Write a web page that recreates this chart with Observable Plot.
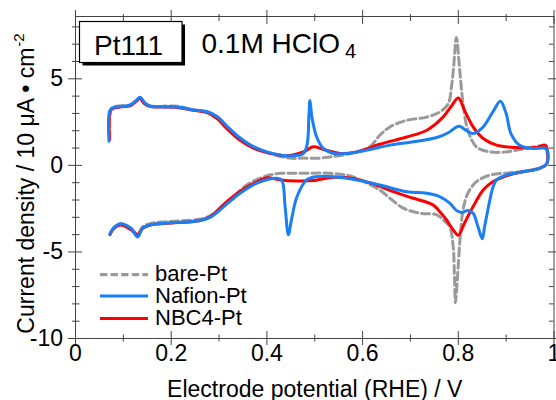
<!DOCTYPE html>
<html><head><meta charset="utf-8">
<script src="https://cdn.jsdelivr.net/npm/d3@7"></script>
<script src="https://cdn.jsdelivr.net/npm/@observablehq/plot@0.6"></script>
<style>body{margin:0;background:#fff}#chart{width:556px;height:400px}</style>
</head><body><div id="chart"></div>
<script>
// ---- data ----
const seriesNames = ["bare-Pt", "Nafion-Pt", "NBC4-Pt"];
const seriesColors = ["#9a9a9a", "#1a7ff5", "#ff0000"];

// bare-Pt: anodic sweep then cathodic sweep
const bareX = [0.072,0.074,0.08,0.095,0.115,0.127,0.135,0.141,0.147,0.157,0.2125,0.247,0.275,0.296,0.317,0.344,0.372,0.40,0.447,0.476,0.51,0.532,0.558,0.58,0.615,0.636,0.657,0.692,0.734,0.761,0.779,0.786,0.79,0.796,0.803,0.81,0.82,0.838,0.866,0.90,0.942,0.98,0.985,
  0.97,0.935,0.90,0.866,0.838,0.82,0.81,0.803,0.798,0.794,0.792,0.789,0.782,0.772,0.755,0.72,0.685,0.657,0.636,0.609,0.574,0.532,0.463,0.428,0.40,0.358,0.317,0.282,0.261,0.192,0.157,0.14,0.13,0.115,0.094,0.08,0.072];
const bareY = [1.5,3.2,3.38,3.45,3.5,3.75,3.92,3.72,3.56,3.43,3.42,3.2,3.1,2.8,2.2,1.55,1.05,0.75,0.42,0.42,0.42,0.49,0.59,0.72,1.07,1.74,2.22,2.6,2.79,3.08,3.56,4.6,5.6,7.39,5.48,3.56,2.03,1.07,0.78,0.78,0.98,1.07,0.1,
  -0.15,-0.35,-0.45,-0.56,-0.94,-1.61,-2.57,-4.48,-6.6,-7.93,-6.4,-4.6,-3.53,-3.24,-2.86,-2.76,-2.47,-1.9,-1.42,-1.03,-0.61,-0.46,-0.46,-0.46,-0.6,-1.13,-2.18,-2.9,-3.1,-3.25,-3.35,-3.55,-4.0,-3.6,-3.4,-3.6,-3.95];

// Nafion-Pt
const nafionX = [0.070,0.072,0.08,0.095,0.115,0.127,0.135,0.141,0.147,0.157,0.18,0.2125,0.247,0.275,0.296,0.317,0.344,0.372,0.40,0.442,0.476,0.484,0.488,0.49,0.494,0.504,0.518,0.539,0.567,0.609,0.657,0.706,0.755,0.78,0.795,0.803,0.815,0.831,0.852,0.872,0.888,0.90,0.91,0.928,0.956,0.984,0.985,
  0.97,0.935,0.90,0.88,0.872,0.866,0.855,0.85,0.841,0.831,0.82,0.806,0.796,0.782,0.761,0.734,0.692,0.636,0.588,0.539,0.504,0.483,0.463,0.452,0.445,0.438,0.431,0.421,0.379,0.344,0.31,0.282,0.261,0.192,0.157,0.14,0.13,0.115,0.094,0.08,0.072];
const nafionY = [1.4,3.18,3.35,3.4,3.5,3.75,3.94,3.75,3.56,3.41,3.38,3.37,3.2,3.1,2.82,2.25,1.58,1.08,0.78,0.55,0.69,1.2,3.0,3.75,2.8,1.64,0.98,0.69,0.69,0.88,1.17,1.36,1.61,1.9,2.2,2.26,2.05,1.84,2.22,3.08,3.7,2.99,1.84,1.17,0.98,0.94,0.1,
  -0.17,-0.37,-0.56,-0.84,-1.3,-1.99,-3.53,-4.24,-3.53,-2.76,-2.61,-2.72,-2.6,-2.18,-1.8,-1.61,-1.52,-1.13,-0.84,-0.65,-0.65,-0.84,-1.8,-3.05,-4.0,-2.38,-0.84,-0.75,-1.03,-1.61,-2.38,-2.99,-3.18,-3.33,-3.43,-3.62,-4.14,-3.62,-3.37,-3.6,-3.95];

// NBC4-Pt
const nbcX = [0.071,0.073,0.08,0.095,0.115,0.127,0.135,0.141,0.147,0.157,0.2125,0.247,0.275,0.296,0.317,0.344,0.372,0.40,0.442,0.476,0.497,0.518,0.553,0.588,0.636,0.692,0.734,0.768,0.785,0.8,0.813,0.831,0.852,0.88,0.921,0.963,0.982,0.985,
  0.97,0.935,0.906,0.872,0.852,0.831,0.813,0.8,0.789,0.775,0.761,0.747,0.706,0.664,0.622,0.58,0.539,0.497,0.463,0.428,0.40,0.379,0.344,0.31,0.282,0.261,0.192,0.157,0.14,0.13,0.115,0.094,0.08,0.072];
const nbcY = [1.5,3.15,3.3,3.38,3.45,3.7,3.88,3.65,3.5,3.4,3.35,3.18,3.05,2.7,2.1,1.45,1.0,0.74,0.55,0.78,1.07,0.92,0.69,0.78,1.22,1.64,2.03,2.79,3.4,3.89,3.18,2.22,1.55,1.17,1.03,1.03,1.17,0.1,
  -0.17,-0.37,-0.56,-0.94,-1.42,-2.38,-3.33,-4.04,-3.72,-3.14,-2.67,-2.28,-1.9,-1.52,-1.07,-0.75,-0.69,-0.88,-0.9,-0.84,-0.72,-0.95,-1.5,-2.25,-2.95,-3.18,-3.35,-3.45,-3.65,-4.0,-3.7,-3.45,-3.65,-4.0];

const xMajor = [0, 0.2, 0.4, 0.6, 0.8, 1];
const xMinor = [0.1, 0.3, 0.5, 0.7, 0.9];
const xTickLabels = ["0", "0.2", "0.4", "0.6", "0.8", "1"];
const yMajor = [-10, -5, 0, 5];
const yMinor = [-9,-8,-7,-6,-4,-3,-2,-1,1,2,3,4,6,7,8];
const yTickLabels = ["-10", "-5", "0", "5"];
const xLabel = "Electrode potential (RHE) / V";
const yLabel = "Current density / 10 \u03bcA \u2022 cm";
const yLabelSup = "-2";
const boxText = "Pt111";
const titleText = "0.1M HClO";
const titleSub = "4";

// ---- build table ----
function rowsOf(name, xs, ys) { return xs.map((x, i) => ({series: name, x, y: ys[i]})); }
const bareRows = rowsOf(seriesNames[0], bareX, bareY);
const nafionRows = rowsOf(seriesNames[1], nafionX, nafionY);
const nbcRows = rowsOf(seriesNames[2], nbcX, nbcY);

const W = 556, H = 400, mt = 16, mb = 62, ml = 75, mr = 2.5;
const pw = W - ml - mr, ph = H - mt - mb;
const font = "'Liberation Sans', Arial, Helvetica, sans-serif";
const axisColor = "#444";

const chart = Plot.plot({
  width: W, height: H,
  marginTop: mt, marginBottom: mb, marginLeft: ml, marginRight: mr,
  style: {fontFamily: font, background: "#fff", color: "#000", overflow: "visible"},
  x: {domain: [0, 1]},
  y: {domain: [-10, 8.6]},
  marks: [
    Plot.line(bareRows, {x: "x", y: "y", stroke: seriesColors[0], strokeWidth: 3, strokeDasharray: "8,4", curve: "catmull-rom"}),
    Plot.line(nbcRows, {x: "x", y: "y", stroke: seriesColors[2], strokeWidth: 3, curve: "catmull-rom"}),
    Plot.line(nafionRows, {x: "x", y: "y", stroke: seriesColors[1], strokeWidth: 3, curve: "catmull-rom"}),
    Plot.frame({stroke: axisColor, strokeWidth: 1}),
    // bottom ticks
    Plot.tickX(xMajor, {x: d => d, stroke: axisColor, insetTop: ph - 7, insetBottom: -7}),
    Plot.tickX(xMinor, {x: d => d, stroke: axisColor, insetTop: ph - 3.5, insetBottom: -3.5}),
    // top ticks
    Plot.tickX(xMajor, {x: d => d, stroke: axisColor, insetTop: -6, insetBottom: ph - 8}),
    Plot.tickX(xMinor, {x: d => d, stroke: axisColor, insetTop: -2, insetBottom: ph - 5}),
    // left ticks
    Plot.tickY(yMajor, {y: d => d, stroke: axisColor, insetLeft: -7, insetRight: pw - 7}),
    Plot.tickY(yMinor, {y: d => d, stroke: axisColor, insetLeft: -3, insetRight: pw - 4.5}),
    // right ticks
    Plot.tickY(yMajor, {y: d => d, stroke: axisColor, insetLeft: pw - 5.5, insetRight: -3}),
    Plot.tickY(yMinor, {y: d => d, stroke: axisColor, insetLeft: pw - 4.5, insetRight: 0}),
    Plot.axisX({ticks: xMajor, tickSize: 0, tickPadding: 6, tickFormat: d => xTickLabels[xMajor.indexOf(d)], fontSize: 23, label: null}),
    Plot.axisY({ticks: yMajor, tickSize: 0, tickPadding: 12.5, tickFormat: d => yTickLabels[yMajor.indexOf(d)], fontSize: 23, label: null}),
    Plot.text([xLabel], {frameAnchor: "bottom", lineAnchor: "bottom", dy: 58, fontSize: 23}),
    Plot.text([yLabel], {frameAnchor: "left", textAnchor: "middle", lineAnchor: "bottom", rotate: -90, dx: -42, dy: 6, fontSize: 23, className: "ylab"}),
    Plot.text([boxText], {frameAnchor: "top-left", textAnchor: "start", lineAnchor: "bottom", dx: 18.5, dy: 38.5, fontSize: 28, className: "boxlab"}),
    Plot.text([titleText], {frameAnchor: "top-left", textAnchor: "start", lineAnchor: "bottom", dx: 126, dy: 36, fontSize: 28, className: "title"})
  ]
});

document.getElementById("chart").appendChild(chart);
const svg = d3.select(chart);

// subscript in title
svg.selectAll("g.title text").append("tspan").attr("dx", 5).attr("dy", 5).attr("font-size", 20).text(titleSub);
// superscript in y label
svg.selectAll("g.ylab text").append("tspan").attr("dx", 1).attr("dy", -10).attr("font-size", 15).text(yLabelSup);

// box with shadow behind "Pt111"
const boxNode = svg.select("g.boxlab text").node();
if (boxNode) {
  const sr = chart.getBoundingClientRect();
  const r = boxNode.getBoundingClientRect();
  const bx = r.left - sr.left - 14.5, by = r.top - sr.top - 8.5;
  const bw = r.width + 33.5, bh = r.height + 10;
  const pre = svg.insert("g", "g.boxlab");
  pre.append("rect").attr("x", bx + 3).attr("y", by + 3).attr("width", bw).attr("height", bh).attr("fill", "#000");
  pre.append("rect").attr("x", bx).attr("y", by).attr("width", bw).attr("height", bh).attr("fill", "#fff").attr("stroke", "#000").attr("stroke-width", 1.2);
}

// legend
const leg = svg.append("g").attr("font-family", font).attr("font-size", 22).attr("text-anchor", "start");
const legY = [274.7, 296, 318.5];
seriesNames.forEach((name, i) => {
  leg.append("line").attr("x1", 100).attr("x2", 148).attr("y1", legY[i]).attr("y2", legY[i])
    .attr("stroke", seriesColors[i]).attr("stroke-width", 3.2)
    .attr("stroke-dasharray", i === 0 ? "7.3,3.3" : null);
  leg.append("text").attr("x", 155).attr("y", legY[i] + 6.5).attr("fill", "#000").attr("text-anchor", "start").text(name);
});
</script>
</body></html>
